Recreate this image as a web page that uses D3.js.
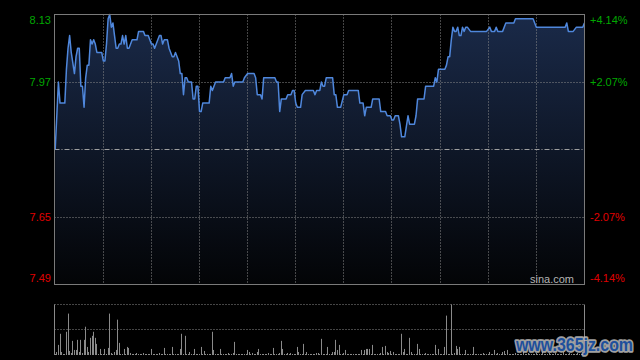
<!DOCTYPE html>
<html>
<head>
<meta charset="utf-8">
<script src="https://cdn.jsdelivr.net/npm/d3@7"></script>
<style>
  html, body { margin: 0; padding: 0; background: #000; }
  svg { display: block; }
  text { font-family: "Liberation Sans", Arial, sans-serif; }
</style>
</head>
<body>
<svg id="chart" width="640" height="360"></svg>
<script>
// minute of the session (0 = 9:30, 330 = 16:00, lunch skipped) and price
var priceMin = [0, 2, 3, 6, 7, 8, 9, 10, 12, 13, 14, 15, 16, 17, 18, 19, 20, 21, 22, 23,
  24, 25, 26, 29, 30, 31, 32, 33, 34, 35, 36, 37, 38, 39, 40, 41, 42, 43, 44, 45,
  46, 48, 51, 52, 55, 56, 58, 60, 61, 62, 63, 65, 66, 67, 68, 70, 71, 73, 74, 75,
  76, 77, 78, 79, 80, 81, 82, 83, 85, 86, 87, 88, 89, 90, 91, 92, 96, 97, 98, 100,
  105, 106, 109, 110, 111, 112, 117, 118, 120, 124, 125, 126, 128, 129, 130, 137, 138, 139, 140, 141,
  144, 145, 147, 148, 149, 150, 151, 153, 154, 156, 161, 162, 163, 165, 166, 167, 168, 169, 173, 174,
  175, 176, 178, 180, 182, 183, 189, 190, 192, 193, 194, 197, 198, 202, 203, 206, 207, 209, 210, 211,
  212, 214, 215, 216, 218, 220, 221, 224, 225, 226, 230, 231, 236, 237, 238, 239, 243, 244, 245, 246,
  247, 248, 249, 250, 251, 252, 253, 254, 255, 256, 257, 259, 269, 271, 272, 274, 275, 276, 279, 281,
  286, 287, 298, 300, 318, 319, 320, 323, 325, 329, 330];
var price = [7.81, 7.97, 7.92, 7.92, 8.00, 8.05, 8.08, 8.04, 7.99, 8.03, 8.05, 8.05, 7.96, 7.96, 7.91, 7.98, 8.01, 8.01, 8.07, 8.06,
  8.07, 8.06, 8.04, 8.04, 8.02, 8.02, 8.06, 8.12, 8.13, 8.10, 8.11, 8.08, 8.05, 8.05, 8.06, 8.06, 8.08, 8.06, 8.08, 8.05,
  8.05, 8.07, 8.07, 8.09, 8.09, 8.08, 8.08, 8.06, 8.06, 8.05, 8.06, 8.08, 8.08, 8.06, 8.07, 8.07, 8.05, 8.03, 8.03, 8.04,
  8.03, 8.02, 7.99, 7.99, 7.94, 7.98, 7.98, 7.97, 7.97, 7.93, 7.93, 7.96, 7.96, 7.90, 7.90, 7.92, 7.92, 7.96, 7.95, 7.97,
  7.97, 7.98, 7.98, 7.99, 7.96, 7.97, 7.97, 7.98, 7.99, 7.99, 7.98, 7.94, 7.94, 7.93, 7.98, 7.98, 7.97, 7.97, 7.90, 7.93,
  7.93, 7.94, 7.94, 7.95, 7.95, 7.92, 7.91, 7.91, 7.94, 7.95, 7.95, 7.94, 7.95, 7.95, 7.97, 7.96, 7.96, 7.98, 7.98, 7.94,
  7.94, 7.91, 7.91, 7.94, 7.94, 7.95, 7.95, 7.92, 7.92, 7.89, 7.91, 7.91, 7.93, 7.93, 7.90, 7.90, 7.89, 7.89, 7.88, 7.88,
  7.89, 7.89, 7.87, 7.84, 7.84, 7.89, 7.87, 7.87, 7.89, 7.93, 7.93, 7.96, 7.96, 7.98, 7.97, 8.00, 8.00, 8.01, 8.03, 8.03,
  8.07, 8.10, 8.09, 8.09, 8.10, 8.08, 8.08, 8.10, 8.09, 8.10, 8.10, 8.09, 8.09, 8.10, 8.09, 8.09, 8.10, 8.09, 8.09, 8.11,
  8.11, 8.12, 8.12, 8.10, 8.10, 8.11, 8.09, 8.09, 8.10, 8.10, 8.11];

// volume per minute, 0..330
var volume = [1, 3, 10, 21, 3, 1, 1, 23, 41, 4,
  2, 14, 5, 5, 15, 3, 15, 2, 15, 28,
  8, 3, 17, 19, 23, 17, 11, 1, 6, 1,
  1, 6, 1, 7, 41, 2, 1, 3, 5, 35,
  12, 1, 1, 6, 1, 8, 7, 2, 1, 1,
  1, 2, 1, 1, 1, 2, 1, 1, 1, 1,
  6, 1, 1, 1, 1, 2, 1, 1, 7, 1,
  1, 1, 1, 8, 1, 1, 1, 1, 6, 21,
  1, 19, 1, 1, 3, 1, 1, 6, 1, 1,
  1, 8, 1, 4, 1, 1, 1, 1, 23, 5,
  1, 1, 1, 6, 1, 1, 1, 1, 2, 1,
  1, 2, 13, 1, 1, 1, 1, 1, 1, 1,
  5, 3, 1, 2, 1, 1, 3, 6, 1, 1,
  1, 1, 1, 2, 1, 1, 7, 1, 1, 1,
  2, 14, 6, 1, 1, 2, 1, 2, 1, 1,
  1, 8, 3, 1, 1, 11, 1, 3, 1, 1,
  1, 1, 1, 2, 2, 1, 16, 1, 1, 1,
  8, 1, 1, 3, 3, 15, 5, 10, 1, 1,
  2, 5, 1, 1, 1, 1, 1, 1, 1, 1,
  1, 5, 1, 5, 6, 6, 6, 1, 10, 1,
  1, 1, 1, 2, 8, 1, 9, 3, 2, 4,
  1, 3, 1, 1, 1, 1, 21, 3, 6, 1,
  1, 17, 3, 1, 1, 1, 11, 6, 1, 1,
  1, 2, 1, 1, 1, 1, 1, 10, 1, 6,
  1, 1, 1, 8, 39, 1, 1, 50, 1, 2,
  9, 6, 8, 1, 1, 1, 5, 1, 1, 1,
  1, 8, 1, 1, 1, 1, 1, 2, 1, 1,
  1, 3, 1, 1, 5, 1, 2, 1, 1, 3,
  4, 1, 5, 1, 1, 1, 1, 2, 1, 1,
  1, 1, 3, 1, 1, 2, 1, 1, 1, 1,
  2, 1, 1, 1, 3, 1, 1, 1, 2, 1,
  1, 1, 2, 1, 1, 1, 1, 3, 1, 1,
  1, 2, 1, 1, 1, 1, 2, 1, 1, 1,
  4];

var prevClose = 7.81;
var priceTicks = [8.13, 7.97, 7.65, 7.49];
var pctLabels = ["+4.14%", "+2.07%", "-2.07%", "-4.14%"];
var gridMinutes = [30, 60, 90, 120, 150, 180, 210, 240, 270, 300];

var svg = d3.select("#chart");
svg.append("rect").attr("width", 640).attr("height", 360).attr("fill", "#000");

var pLeft = 54.5, pRight = 584.5, pTop = 14.5, pBottom = 284.5;
var volTop = 304.5, volMid = 329.5, volBottom = 355;

var x = d3.scaleLinear().domain([0, 330]).range([55.2, 584.4]);
var y = d3.scaleLinear().domain([7.49, 8.13]).range([pBottom, pTop]);
var yv = d3.scaleLinear().domain([0, d3.max(volume)]).range([volBottom, volTop]);

var data = priceMin.map(function(m, i) { return { m: m, p: price[i] }; });

// gradient under the line
var grad = svg.append("defs").append("linearGradient")
  .attr("id", "fillGrad")
  .attr("gradientUnits", "userSpaceOnUse")
  .attr("x1", 0).attr("y1", pTop).attr("x2", 0).attr("y2", pBottom);
grad.append("stop").attr("offset", "0%").attr("stop-color", "#1a2a49");
grad.append("stop").attr("offset", "100%").attr("stop-color", "#030406");

var area = d3.area()
  .x(function(d) { return x(d.m); })
  .y0(pBottom)
  .y1(function(d) { return y(d.p); });

svg.append("path")
  .datum(data)
  .attr("fill", "url(#fillGrad)")
  .attr("d", area);

// grid
var grid = svg.append("g").attr("stroke", "#8a8a8a").attr("stroke-width", 1);
gridMinutes.forEach(function(m) {
  var gx = Math.floor(x(m)) + 0.5;
  grid.append("line")
    .attr("x1", gx).attr("x2", gx).attr("y1", pTop).attr("y2", pBottom)
    .attr("stroke-dasharray", "1,2");
});
[7.97, 7.65].forEach(function(v) {
  var gy = Math.floor(y(v)) + 0.5;
  grid.append("line")
    .attr("x1", pLeft).attr("x2", pRight).attr("y1", gy).attr("y2", gy)
    .attr("stroke-dasharray", "1,2");
});
var my = Math.floor(y(prevClose)) + 0.5;
svg.append("line")
  .attr("x1", pLeft).attr("x2", pRight).attr("y1", my).attr("y2", my)
  .attr("stroke", "#a0a0a0")
  .attr("stroke-dasharray", "5,2,1,2");

// price line
var line = d3.line()
  .x(function(d) { return x(d.m); })
  .y(function(d) { return y(d.p); });

svg.append("path")
  .datum(data)
  .attr("fill", "none")
  .attr("stroke", "#4f87dc")
  .attr("stroke-width", 1.5)
  .attr("stroke-linejoin", "round")
  .attr("d", line);

// frame
svg.append("rect")
  .attr("x", pLeft).attr("y", pTop)
  .attr("width", pRight - pLeft).attr("height", pBottom - pTop)
  .attr("fill", "none").attr("stroke", "#7a7a7a");

// labels
priceTicks.forEach(function(v, i) {
  var ty = Math.max(20, Math.min(278, y(v)));
  var col = v > prevClose ? "#00a800" : "#e00000";
  svg.append("text")
    .attr("x", 51).attr("y", ty).attr("dy", "0.36em")
    .attr("text-anchor", "end")
    .attr("font-size", 11)
    .attr("fill", col)
    .text(v.toFixed(2));
  svg.append("text")
    .attr("x", 590).attr("y", ty).attr("dy", "0.36em")
    .attr("font-size", 11)
    .attr("fill", col)
    .text(pctLabels[i]);
});

svg.append("text")
  .attr("x", 574).attr("y", 279).attr("dy", "0.36em")
  .attr("text-anchor", "end")
  .attr("font-size", 11)
  .attr("fill", "#b4b4b4")
  .text("sina.com");

// volume panel
var vg = svg.append("g").attr("stroke", "#8a8a8a");
[volTop, volMid].forEach(function(gy) {
  vg.append("line")
    .attr("x1", pLeft).attr("x2", pRight).attr("y1", gy).attr("y2", gy)
    .attr("stroke-dasharray", "1,2");
});
[pLeft, pRight].forEach(function(gx) {
  vg.append("line")
    .attr("x1", gx).attr("x2", gx).attr("y1", volTop).attr("y2", volBottom);
});

svg.append("g").selectAll("rect")
  .data(volume)
  .enter()
  .append("rect")
  .attr("x", function(d, i) { return Math.floor(x(i)); })
  .attr("width", 1)
  .attr("y", function(d) { return yv(d); })
  .attr("height", function(d) { return volBottom - yv(d); })
  .attr("fill", "#8a8a8a");

// watermark
var wm = svg.append("g").attr("font-family", "'Liberation Serif', serif")
  .attr("font-weight", "bold").attr("font-size", 18);
wm.append("text")
  .attr("x", 516).attr("y", 351)
  .attr("textLength", 117).attr("lengthAdjust", "spacingAndGlyphs")
  .attr("fill", "none").attr("stroke", "#bdbdbd").attr("stroke-width", 3.5)
  .attr("stroke-linejoin", "round").attr("opacity", 0.85)
  .text("www.365jz.com");
wm.append("text")
  .attr("x", 516).attr("y", 351)
  .attr("textLength", 117).attr("lengthAdjust", "spacingAndGlyphs")
  .attr("fill", "#1d4f9c")
  .text("www.365jz.com");
</script>
</body>
</html>
